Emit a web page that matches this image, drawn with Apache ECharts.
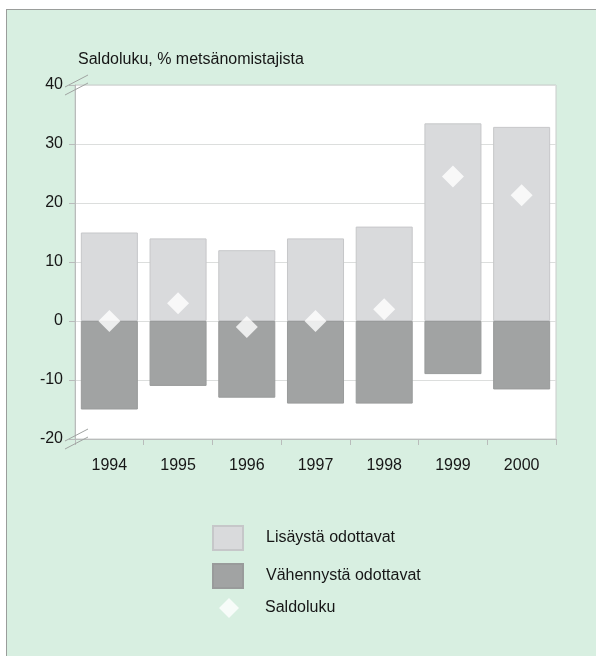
<!DOCTYPE html>
<html>
<head>
<meta charset="utf-8">
<script src="https://cdn.jsdelivr.net/npm/echarts@6/dist/echarts.min.js"></script>
<style>
  html, body { margin: 0; padding: 0; background: #ffffff; }
  #frame { position: absolute; left: 6px; top: 9px; width: 590px; height: 647px;
           background: #d8efe1; border-left: 1.5px solid #9a9d9b; border-top: 1.5px solid #9a9d9b; box-sizing: border-box; }
  #chart { position: absolute; left: 0; top: 0; width: 596px; height: 656px; }
</style>
</head>
<body>
<div id="frame"></div>
<div id="chart"></div>
<script>
// Forest owners' expectations, balance figure (%)
const years = ['1994', '1995', '1996', '1997', '1998', '1999', '2000'];
const increaseExpected = [15, 14, 12, 14, 16, 33.5, 32.9];
const decreaseExpected = [-15, -11, -13, -14, -14, -9, -11.6];
const balance = [0, 3, -1, 0, 2, 24.5, 21.3];
const yTicks = { min: -20, max: 40, interval: 10 };

const FONT = '"Liberation Sans", Arial, sans-serif';
const chart = echarts.init(document.getElementById('chart'), null, { renderer: 'canvas' });

function legendText(padLeft) {
  return { fontFamily: FONT, fontSize: 16, color: '#161616', padding: [0, 0, 0, padLeft] };
}

chart.setOption({
  backgroundColor: 'transparent',
  animation: false,
  title: {
    text: 'Saldoluku, % metsänomistajista',
    left: 73, top: 47,
    textStyle: { fontFamily: FONT, fontSize: 16, fontWeight: 'normal', color: '#161616' }
  },
  grid: {
    left: 75, right: 40, top: 85, bottom: 217,
    show: true, backgroundColor: '#ffffff', borderColor: '#c9cccb', borderWidth: 1
  },
  legend: [
    { data: [{ name: 'Lisäystä odottavat', icon: 'rect' }], left: 207, top: 520,
      itemWidth: 30, itemHeight: 24, textStyle: legendText(18) },
    { data: [{ name: 'Vähennystä odottavat', icon: 'rect' }], left: 207, top: 558,
      itemWidth: 30, itemHeight: 24, textStyle: legendText(18) },
    { data: [{ name: 'Saldoluku', icon: 'diamond' }], left: 214, top: 593,
      itemWidth: 20, itemHeight: 20, textStyle: legendText(21) }
  ],
  xAxis: {
    type: 'category',
    data: years,
    axisLine: { onZero: false, lineStyle: { color: '#b9bcbb' } },
    axisTick: { show: true, length: 6, lineStyle: { color: '#b9bcbb' } },
    axisLabel: { fontFamily: FONT, fontSize: 16, color: '#161616', margin: 19 }
  },
  yAxis: {
    type: 'value',
    min: yTicks.min, max: yTicks.max, interval: yTicks.interval,
    axisLine: { show: true, lineStyle: { color: '#b9bcbb' } },
    axisTick: { show: true, length: 6, lineStyle: { color: '#b9bcbb' } },
    axisLabel: { fontFamily: FONT, fontSize: 16, color: '#161616', margin: 12 },
    splitLine: { show: true, lineStyle: { color: '#dcdedd', width: 1 } }
  },
  series: [
    {
      name: 'Lisäystä odottavat', type: 'bar', stack: 'share', data: increaseExpected,
      barCategoryGap: '17%',
      itemStyle: { color: '#d9dadc', borderColor: '#c6c7c9', borderWidth: 1 }
    },
    {
      name: 'Vähennystä odottavat', type: 'bar', stack: 'share', data: decreaseExpected,
      barCategoryGap: '17%',
      itemStyle: { color: '#a1a3a3', borderColor: '#999b9b', borderWidth: 1 }
    },
    {
      name: 'Saldoluku', type: 'scatter', data: balance, z: 5,
      symbol: 'diamond', symbolSize: 22,
      itemStyle: { color: '#ffffff' }
    }
  ]
});

// Axis break marks at both ends of the value axis
function breakMarks() {
  const g = [];
  [yTicks.max, yTicks.min].forEach(v => {
    const p = chart.convertToPixel({ xAxisIndex: 0, yAxisIndex: 0 }, [0, v]);
    const y = p[1];
    const x0 = 76;
    [-4, 4].forEach(d => {
      g.push({
        type: 'line',
        shape: { x1: x0 - 11, y1: y + 6 + d, x2: x0 + 12, y2: y - 6 + d },
        style: { stroke: '#9fa3a1', lineWidth: 1 },
        z: 10
      });
    });
  });
  chart.setOption({ graphic: g });
}
breakMarks();
</script>
</body>
</html>
